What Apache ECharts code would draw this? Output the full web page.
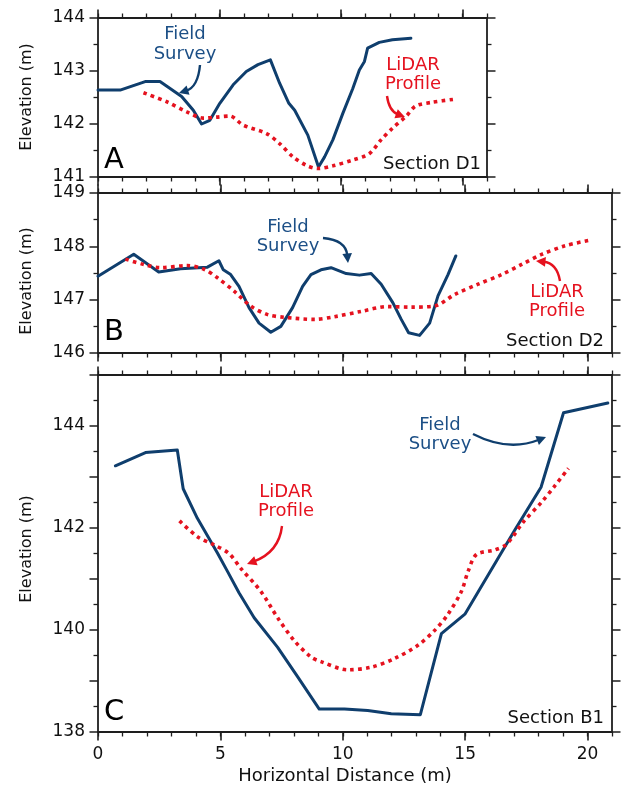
<!DOCTYPE html>
<html>
<head>
<meta charset="utf-8">
<script src="https://cdn.jsdelivr.net/npm/echarts@6/dist/echarts.min.js"></script>
<style>
html,body{margin:0;padding:0;background:#fff;}
#chart{width:624px;height:791px;}
</style>
</head>
<body>
<div id="chart"></div>
<script>
// ---- data (x: horizontal distance m, y: elevation m) ----
const fieldSurveyA = [[0,142.64],[0.91,142.64],[1.94,142.80],[2.55,142.80],[3.44,142.52],[3.92,142.26],[4.26,142.00],[4.6,142.07],[5.01,142.39],[5.56,142.74],[6.1,142.99],[6.58,143.12],[7.09,143.21],[7.47,142.77],[7.85,142.39],[8.09,142.26],[8.63,141.79],[9.07,141.19],[9.32,141.38],[9.66,141.70],[10.07,142.20],[10.48,142.67],[10.75,143.02],[10.96,143.18],[11.09,143.43],[11.57,143.54],[12.11,143.59],[12.87,143.62]];
const lidarProfileA = [[1.87,142.59],[2.83,142.42],[3.65,142.23],[4.33,142.11],[4.88,142.13],[5.42,142.15],[5.97,141.98],[6.93,141.82],[7.47,141.63],[8.02,141.38],[8.57,141.22],[9.04,141.16],[9.66,141.21],[10.48,141.32],[11.16,141.44],[11.64,141.70],[12.11,141.92],[12.66,142.14],[13.07,142.34],[13.75,142.41],[14.71,142.47]];
const fieldSurveyB = [[0,147.44],[1.46,147.85],[2.48,147.52],[3.37,147.58],[4.47,147.61],[4.94,147.73],[5.12,147.56],[5.42,147.47],[5.76,147.25],[6.17,146.85],[6.58,146.56],[7.06,146.39],[7.47,146.50],[7.95,146.85],[8.36,147.25],[8.70,147.47],[9.11,147.56],[9.52,147.60],[10.14,147.49],[10.68,147.46],[11.16,147.49],[11.57,147.29],[12.05,146.94],[12.39,146.63],[12.69,146.38],[13.14,146.33],[13.55,146.56],[13.89,147.07],[14.30,147.47],[14.62,147.82]];
const lidarProfileB = [[1.12,147.76],[1.87,147.66],[2.55,147.60],[3.65,147.64],[4.33,147.57],[4.88,147.41],[5.56,147.16],[6.24,146.88],[6.93,146.72],[7.61,146.67],[8.84,146.63],[9.66,146.68],[10.75,146.78],[11.84,146.87],[12.80,146.86],[13.75,146.88],[14.58,147.10],[15.53,147.29],[16.49,147.47],[17.31,147.66],[18.13,147.85],[19.08,148.01],[20.04,148.11]];
const fieldSurveyC = [[0.71,143.22],[1.94,143.48],[3.24,143.53],[3.48,142.77],[4.06,142.19],[4.88,141.51],[5.29,141.15],[5.76,140.73],[6.38,140.24],[7.34,139.66],[8.16,139.08],[9.04,138.45],[10.07,138.45],[11.02,138.42],[11.98,138.36],[13.17,138.34],[14.03,139.93],[14.99,140.31],[17.03,141.96],[18.10,142.80],[19.02,144.26],[20.83,144.45]];
const lidarProfileC = [[3.33,142.14],[4.06,141.83],[4.74,141.67],[5.35,141.50],[5.85,141.20],[6.65,140.76],[7.34,140.24],[8.02,139.79],[8.70,139.47],[9.11,139.38],[10.20,139.22],[11.16,139.27],[12.11,139.44],[13.07,139.70],[13.75,139.99],[14.30,140.31],[14.85,140.76],[15.12,141.15],[15.46,141.48],[16.21,141.57],[16.69,141.68],[17.38,142.12],[18.13,142.51],[18.67,142.83],[19.22,143.17]];

const xMaxes = [16, 21, 21];
const yRanges = [[141, 144], [146, 149], [138, 145]];
const xTickLabels = [0, 5, 10, 15, 20];
const panelLetters = ['A', 'B', 'C'];
const sectionNames = ['Section D1', 'Section D2', 'Section B1'];
const xAxisTitle = 'Horizontal Distance (m)';
const yAxisTitle = 'Elevation (m)';
const fieldLabel = 'Field\nSurvey';
const lidarLabel = 'LiDAR\nProfile';

// ---- styles ----
const BLUE = '#0f3e6d';
const BLUE_TXT = '#1c4f86';
const RED = '#e5121f';
const AXIS = '#1e1e1e';
const FONT = 'DejaVu Sans';

const grids = [
  {left: 98, top: 18, width: 389, height: 159},
  {left: 98, top: 193, width: 514, height: 160},
  {left: 98, top: 375, width: 514, height: 357}
];

const axisLineStyle = {color: AXIS, width: 1.8};
const xAxes = [], yAxes = [];
grids.forEach((g, i) => {
  ['bottom', 'top'].forEach(pos => {
    xAxes.push({
      gridIndex: i, type: 'value', position: pos, min: 0, max: xMaxes[i], interval: 1,
      axisLine: {show: true, onZero: false, lineStyle: axisLineStyle},
      axisTick: {show: true, length: 4.5, lineStyle: {color: AXIS, width: 1.3}},
      axisLabel: (i === 2 && pos === 'bottom') ? {
        show: true, margin: 14, color: '#111', fontFamily: FONT, fontSize: 17,
        formatter: v => xTickLabels.indexOf(v) >= 0 ? String(v) : ''
      } : {show: false},
      splitLine: {show: false}
    });
    xAxes.push({
      gridIndex: i, type: 'value', position: pos, min: 0, max: xMaxes[i], interval: 5,
      axisLine: {show: false, onZero: false},
      axisTick: {show: true, length: 8.5, customValues: xTickLabels.filter(v => v < xMaxes[i]), lineStyle: {color: AXIS, width: 1.6}},
      axisLabel: {show: false},
      splitLine: {show: false}
    });
  });
  ['left', 'right'].forEach(pos => {
    yAxes.push({
      gridIndex: i, type: 'value', position: pos, min: yRanges[i][0], max: yRanges[i][1], interval: 1,
      axisLine: {show: true, onZero: false, lineStyle: axisLineStyle},
      axisTick: {show: true, length: 8.5, lineStyle: {color: AXIS, width: 1.5}},
      minorTick: {show: true, splitNumber: 2, length: 4.5, lineStyle: {color: AXIS, width: 1.3}},
      axisLabel: pos === 'left' ? {
        show: true, margin: 13, color: '#111', fontFamily: FONT, fontSize: 17,
        formatter: v => (i === 2 && v % 2 !== 0) ? '' : String(v)
      } : {show: false},
      splitLine: {show: false}
    });
  });
});

function fieldSeries(data, gi) {
  return {type: 'line', data: data, xAxisIndex: gi * 4, yAxisIndex: gi * 2, showSymbol: false,
    symbol: 'none', lineStyle: {color: BLUE, width: 3, join: 'round', cap: 'round'}, z: 3, silent: true, animation: false};
}
function lidarSeries(data, gi) {
  return {type: 'line', data: data, xAxisIndex: gi * 4, yAxisIndex: gi * 2, showSymbol: false, smooth: 0.3,
    symbol: 'none', lineStyle: {color: RED, width: 3.6, type: [3.6, 4.2], cap: 'butt'}, z: 4, silent: true, animation: false};
}

function arrow(x0, y0, cx, cy, x1, y1, color) {
  const dx = x1 - cx, dy = y1 - cy, L = Math.hypot(dx, dy);
  const ux = dx / L, uy = dy / L, nx = -uy, ny = ux;
  const hl = 9.5, hw = 4.8;
  const bx = x1 - ux * hl, by = y1 - uy * hl;
  return [
    {type: 'bezierCurve', shape: {x1: x0, y1: y0, cpx1: cx, cpy1: cy, x2: bx + ux * 2, y2: by + uy * 2},
      style: {stroke: color, lineWidth: 2.4, fill: null}, z: 10, silent: true},
    {type: 'polygon', shape: {points: [[x1, y1], [bx + nx * hw, by + ny * hw], [bx - nx * hw, by - ny * hw]]},
      style: {fill: color, stroke: null}, z: 10, silent: true}
  ];
}
function label(text, x, y, color, size, align, lh) {
  return {type: 'text', x: x, y: y, z: 10, silent: true,
    style: {text: text, fill: color, font: size + 'px "' + FONT + '"', textAlign: align || 'center',
      textVerticalAlign: 'middle', verticalAlign: 'middle', lineHeight: lh || size * 1.12}};
}

const graphics = [];
[[27, 97], [27, 281], [27, 549]].forEach(p => {
  graphics.push({type: 'text', x: p[0], y: p[1], rotation: Math.PI / 2, z: 10, silent: true,
    style: {text: yAxisTitle, fill: '#111', font: '16px "' + FONT + '"', textAlign: 'center', verticalAlign: 'middle'}});
});
graphics.push(label(xAxisTitle, 345, 776, '#111', 18));
[[104, 160], [104, 332], [104, 712]].forEach((p, i) => graphics.push(label(panelLetters[i], p[0], p[1], '#000', 29, 'left')));
[[481, 164], [604, 341], [604, 718]].forEach((p, i) => graphics.push(label(sectionNames[i], p[0], p[1], '#111', 18, 'right')));
graphics.push(label(fieldLabel, 185, 44, BLUE_TXT, 18, 'center', 20));
graphics.push(label(fieldLabel, 288, 237, BLUE_TXT, 18, 'center', 19));
graphics.push(label(fieldLabel, 440, 435, BLUE_TXT, 18, 'center', 19));
graphics.push(label(lidarLabel, 413, 75, RED, 18, 'center', 19));
graphics.push(label(lidarLabel, 557, 302, RED, 18, 'center', 19));
graphics.push(label(lidarLabel, 286, 502, RED, 18, 'center', 19));
graphics.push(...arrow(200, 65, 198, 87, 179, 93, BLUE));
graphics.push(...arrow(323, 238, 346, 240, 348, 263, BLUE));
graphics.push(...arrow(473, 434, 508, 452, 546, 437, BLUE));
graphics.push(...arrow(387, 96, 389, 111, 405, 117, RED));
graphics.push(...arrow(560, 281, 557, 263, 536, 261, RED));
graphics.push(...arrow(282, 526, 279, 552, 247, 564, RED));

const chart = echarts.init(document.getElementById('chart'), null, {renderer: 'canvas'});
chart.setOption({
  animation: false,
  backgroundColor: '#fff',
  grid: grids,
  xAxis: xAxes,
  yAxis: yAxes,
  series: [
    fieldSeries(fieldSurveyA, 0), lidarSeries(lidarProfileA, 0),
    fieldSeries(fieldSurveyB, 1), lidarSeries(lidarProfileB, 1),
    fieldSeries(fieldSurveyC, 2), lidarSeries(lidarProfileC, 2)
  ],
  graphic: graphics
});
</script>
</body>
</html>
